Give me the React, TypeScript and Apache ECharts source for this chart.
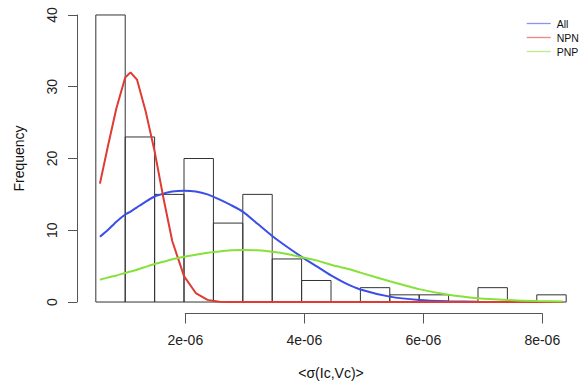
import React, { useEffect, useRef } from 'react';
import * as echarts from 'echarts';

// Histogram bins (edges) and counts
const binEdges = [0.5e-6, 1.0e-6, 1.5e-6, 2.0e-6, 2.5e-6, 3.0e-6, 3.5e-6, 4.0e-6, 4.5e-6, 5.0e-6, 5.5e-6, 6.0e-6, 6.5e-6, 7.0e-6, 7.5e-6, 8.0e-6, 8.5e-6];
const counts = [40, 23, 15, 20, 11, 15, 6, 3, 0, 2, 1, 1, 0, 2, 0, 1];

const curveX = [0.57e-6, 0.7e-6, 0.85e-6, 1.0e-6, 1.09e-6, 1.2e-6, 1.35e-6, 1.5e-6, 1.65e-6, 1.8e-6, 2.0e-6, 2.2e-6, 2.4e-6, 2.6e-6, 2.8e-6, 3.0e-6, 3.25e-6, 3.5e-6, 3.75e-6, 4.0e-6, 4.25e-6, 4.5e-6, 4.75e-6, 5.0e-6, 5.5e-6, 6.0e-6, 6.5e-6, 7.0e-6, 7.5e-6, 8.0e-6, 8.44e-6];
const allY = [9.1, 10.0, 11.2, 12.2, 12.6, 13.2, 14.0, 14.7, 15.1, 15.4, 15.5, 15.4, 15.0, 14.3, 13.5, 12.6, 10.9, 9.2, 7.7, 6.3, 5.0, 3.7, 2.6, 1.75, 0.75, 0.28, 0.1, 0.03, 0.01, 0, 0];
const npnY = [16.5, 21.5, 27.0, 31.3, 32.0, 31.0, 26.5, 21.0, 14.5, 8.5, 3.6, 1.25, 0.3, 0.05, 0, 0, 0, 0, 0, 0, 0, 0, 0, 0, 0, 0, 0, 0, 0, 0, 0];
const pnpY = [3.1, 3.4, 3.7, 4.05, 4.25, 4.5, 4.9, 5.3, 5.6, 5.95, 6.3, 6.6, 6.85, 7.05, 7.2, 7.25, 7.2, 7.0, 6.7, 6.25, 5.8, 5.2, 4.7, 4.1, 2.9, 1.8, 1.0, 0.52, 0.27, 0.13, 0.07];

const seriesNames = ['All', 'NPN', 'PNP'];
const seriesColors = ['#3b4ee6', '#df3b33', '#86e23a'];

const xTickMin = 2e-6;
const xTickMax = 8e-6;
const xTickStep = 2e-6;
const yTickMin = 0;
const yTickMax = 40;
const yTickStep = 10;

const FONT = "'Liberation Sans', Arial, Helvetica, sans-serif";

function fmtExp(v: number): string {
  const s = v.toExponential(0);
  const [m, e] = s.split('e');
  const n = parseInt(e, 10);
  return m + 'e' + (n < 0 ? '-' : '+') + String(Math.abs(n)).padStart(2, '0');
}

export default function App() {
  const ref = useRef<HTMLDivElement>(null);
  useEffect(() => {
    if (!ref.current) return;
    const chart = echarts.init(ref.current, undefined, { renderer: 'svg' });

    // layout
    const xMin = 0.18e-6, xMax = 8.82e-6;
    const yMin = -1.6, yMax = 41.6;
    const gLeft = 77, gTop = 3.5, gH = 310;
    const pxX = 59.5e6;
    const gW = (xMax - xMin) * pxX;
    const pxY = gH / (yMax - yMin);

    const hist = counts.map((c, i) => [binEdges[i], binEdges[i + 1], c]);
    const ys = [allY, npnY, pnpY];

    chart.setOption({
      animation: false,
      grid: [
        { left: gLeft, top: gTop, width: gW, height: gH },
        { left: gLeft + (xTickMin - xMin) * pxX, top: gTop, width: (xTickMax - xTickMin) * pxX, height: gH },
        { left: gLeft, top: gTop + (yMax - yTickMax) * pxY, width: 100, height: (yTickMax - yTickMin) * pxY },
      ],
      xAxis: [
        {
          type: 'value', gridIndex: 0, min: xMin, max: xMax,
          axisLine: { show: false }, axisTick: { show: false }, axisLabel: { show: false }, splitLine: { show: false },
          name: '<σ(Ic,Vc)>', nameLocation: 'middle', nameGap: 52,
          nameTextStyle: { fontFamily: FONT, fontSize: 14, color: '#111' },
        },
        {
          type: 'value', gridIndex: 1, min: xTickMin, max: xTickMax, interval: xTickStep,
          axisLine: { show: true, lineStyle: { color: '#555', width: 1 } },
          axisTick: { show: true, length: 10, lineStyle: { color: '#555', width: 1 } },
          axisLabel: { show: true, margin: 19, fontFamily: FONT, fontSize: 14, color: '#222', formatter: (v: number) => fmtExp(v) },
          splitLine: { show: false },
        },
        { type: 'value', gridIndex: 2, min: 0, max: 1, show: false },
      ],
      yAxis: [
        {
          type: 'value', gridIndex: 0, min: yMin, max: yMax,
          axisLine: { show: false }, axisTick: { show: false }, axisLabel: { show: false }, splitLine: { show: false },
        },
        { type: 'value', gridIndex: 1, min: 0, max: 1, show: false },
        {
          type: 'value', gridIndex: 2, min: yTickMin, max: yTickMax, interval: yTickStep,
          axisLine: { show: true, lineStyle: { color: '#555', width: 1 } },
          axisTick: { show: true, length: 9, lineStyle: { color: '#555', width: 1 } },
          axisLabel: { show: true, rotate: 90, margin: 18, fontFamily: FONT, fontSize: 14, color: '#222' },
          splitLine: { show: false },
          name: 'Frequency', nameLocation: 'middle', nameGap: 51,
          nameTextStyle: { fontFamily: FONT, fontSize: 14, color: '#111' },
        },
      ],
      legend: {
        data: seriesNames,
        orient: 'vertical',
        left: 521.7,
        top: 13,
        icon: 'rect',
        itemWidth: 24,
        itemHeight: 1.3,
        itemGap: 3,
        selectedMode: false,
        itemStyle: { opacity: 0.6 },
        formatter: '{s|}{t|{name}}',
        textStyle: {
          fontFamily: FONT, fontSize: 10.5, color: '#111',
          rich: {
            s: { width: 1, height: 10 },
            t: { fontFamily: FONT, fontSize: 10.5, color: '#111' },
          },
        },
      },
      series: [
        {
          type: 'custom',
          xAxisIndex: 0,
          yAxisIndex: 0,
          silent: true,
          data: hist,
          renderItem: (params: any, api: any) => {
            const p0 = api.coord([api.value(0), 0]);
            const p1 = api.coord([api.value(1), api.value(2)]);
            return {
              type: 'rect',
              shape: { x: p0[0], y: p1[1], width: p1[0] - p0[0], height: p0[1] - p1[1] },
              style: { fill: 'none', stroke: '#333', lineWidth: 1 },
            };
          },
        },
        ...seriesNames.map((name, k) => ({
          type: 'line',
          name,
          xAxisIndex: 0,
          yAxisIndex: 0,
          symbol: 'none',
          smooth: k === 1 ? false : 0.2,
          data: curveX.map((x, i) => [x, ys[k][i]]),
          lineStyle: { color: seriesColors[k], width: 2 },
          itemStyle: { color: seriesColors[k] },
          silent: true,
        })),
      ],
    });
    return () => chart.dispose();
  }, []);
  return <div ref={ref} style={{ position: 'absolute', left: 0, top: 0, width: 585, height: 389 }} />;
}
